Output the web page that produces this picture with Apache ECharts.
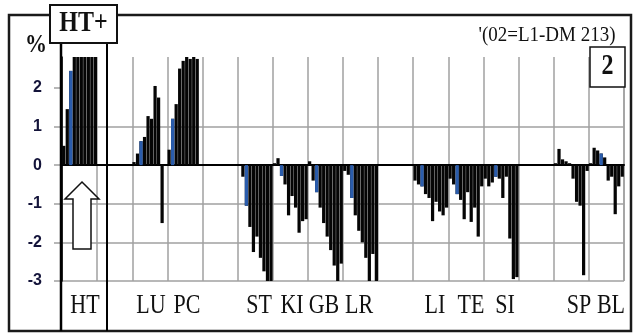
<!DOCTYPE html>
<html><head><meta charset="utf-8">
<script src="https://cdn.jsdelivr.net/npm/echarts@6/dist/echarts.min.js"></script>
<style>html,body{margin:0;padding:0;background:#fff}#c{width:641px;height:333px}</style>
</head><body><div id="c"></div>
<script>
// ---- data: 16 blocks of 10 samples each (one block per vertical grid cell) ----
const blockHT   = [0.5, 1.45, 2.44, 2.8, 2.8, 2.8, 2.8, 2.8, 2.8, 2.8];
const blockGap1 = [0, 0, 0, 0, 0, 0, 0, 0, 0, 0];
const blockLU   = [0.08, 0.3, 0.62, 0.73, 1.27, 1.2, 2.05, 1.75, -1.5, 0];
const blockPC   = [0.4, 1.2, 1.58, 2.5, 2.7, 2.8, 2.75, 2.8, 2.75, 0.03];
const blockGap2 = [0, 0, 0, 0, 0, 0, 0, 0, 0, 0];
const blockST   = [0, -0.3, -1.05, -1.6, -2.25, -1.85, -2.4, -2.75, -3.0, -3.0];
const blockKI   = [0.05, 0.18, -0.28, -0.5, -1.3, -0.8, -1.1, -1.75, -1.45, -1.4];
const blockGB   = [0.1, -0.4, -0.7, -1.1, -1.5, -1.85, -2.2, -2.6, -3.0, -2.55];
const blockLR   = [-0.15, -0.25, -0.85, -1.3, -1.7, -2.0, -2.4, -3.0, -2.3, -3.0];
const blockGap3 = [0, 0, 0, 0, 0, 0, 0, 0, 0, 0];
const blockLI   = [-0.4, -0.5, -0.55, -0.75, -0.85, -1.45, -0.95, -1.2, -1.3, -1.1];
const blockTE   = [-0.35, -0.5, -0.75, -0.9, -1.4, -0.7, -1.47, -1.1, -1.85, -0.55];
const blockSI   = [-0.35, -0.55, -0.45, -0.3, -0.35, -0.85, -0.3, -1.9, -2.95, -2.9];
const blockGap4 = [0, 0, 0, 0, 0, 0, 0, 0, 0, 0];
const blockSP   = [0.05, 0.42, 0.15, 0.1, 0.05, -0.35, -0.95, -1.05, -2.85, -0.15];
const blockBL   = [0.05, 0.45, 0.38, 0.3, 0.2, -0.4, -0.3, -1.27, -0.55, -0.3];
// samples drawn in blue
const blueSamples = [2, 22, 31, 52, 62, 72, 82, 102, 112, 123, 153];
const yTicks = [-3, -2, -1, 0, 1, 2];
const groupLabels = ['HT', 'LU', 'PC', 'ST', 'KI', 'GB', 'LR', 'LI', 'TE', 'SI', 'SP', 'BL'];
const panelTag = 'HT+';
const noteText = "'(02=L1-DM 213)";
const panelNo = '2';
const unitText = '%';

const values = [].concat(blockHT, blockGap1, blockLU, blockPC, blockGap2, blockST, blockKI,
  blockGB, blockLR, blockGap3, blockLI, blockTE, blockSI, blockGap4, blockSP, blockBL);
const categories = values.map((_, i) => String(i + 1));
const blueValues = values.map((v, i) => blueSamples.includes(i) ? v : null);

// label anchor x (pixels) for bottom group labels
const labelX = [85, 151, 187, 259, 292, 324, 359, 435, 471, 505, 579, 611];

const serif = '"Liberation Serif", "DejaVu Serif", serif';
function txt(text, x, y, size, bold, sy) {
  return { type: 'text', x: x, y: y, scaleY: sy || 1.25, z: 20,
    style: { text: text, x: 0, y: 0, fill: '#111', textAlign: 'center', textVerticalAlign: 'middle',
      font: (bold ? 'bold ' : '') + size + 'px ' + serif } };
}

const graphics = [
  { type: 'line', z: -1, shape: { x1: 624, y1: 57, x2: 624, y2: 281 }, style: { stroke: '#a0a0a0', lineWidth: 1.5 } },
  { type: 'rect', z: 10, shape: { x: 9, y: 15, width: 622, height: 316 }, style: { fill: 'none', stroke: '#1a1a1a', lineWidth: 2.5 } },
  { type: 'line', z: 11, shape: { x1: 61, y1: 42, x2: 61, y2: 331 }, style: { stroke: '#000', lineWidth: 2.5 } },
  { type: 'line', z: 11, shape: { x1: 107, y1: 42, x2: 107, y2: 331 }, style: { stroke: '#000', lineWidth: 2 } },
  { type: 'rect', z: 12, shape: { x: 50, y: 5, width: 67, height: 38 }, style: { fill: '#fff', stroke: '#111', lineWidth: 2 } },
  txt(panelTag, 83.5, 24, 24, true, 1.2),
  { type: 'polygon', z: 12, shape: { points: [[82, 182], [99, 199], [91, 199], [91, 249], [73, 249], [73, 199], [65, 199]] },
    style: { fill: '#fff', stroke: '#111', lineWidth: 1.5 } },
  txt(noteText, 547, 35, 19, false, 1.15),
  { type: 'rect', z: 12, shape: { x: 590, y: 47, width: 35, height: 40 }, style: { fill: '#fff', stroke: '#111', lineWidth: 1.5 } },
  txt(panelNo, 607.5, 67, 24, true, 1.2),
  txt(unitText, 36, 45, 22, true, 1.15)
];
groupLabels.forEach((t, i) => graphics.push(txt(t, labelX[i], 306, 22, false, 1.25)));

const chart = echarts.init(document.getElementById('c'), null, { renderer: 'canvas' });
chart.setOption({
  animation: false,
  backgroundColor: '#fff',
  grid: { left: 62, right: 17, top: 57, bottom: 52, containLabel: false },
  xAxis: {
    type: 'category', data: categories, boundaryGap: true,
    axisLine: { show: true, onZero: true, lineStyle: { color: '#000', width: 2 } },
    axisTick: { show: false }, axisLabel: { show: false },
    splitLine: { show: true, interval: 9, lineStyle: { color: '#a0a0a0', width: 1.5 } }
  },
  yAxis: {
    type: 'value', min: -3, max: 2.8, interval: 1,
    axisLine: { show: true, lineStyle: { color: '#000', width: 1.5 } },
    axisTick: { show: true, length: 8, customValues: yTicks, lineStyle: { color: '#a0a0a0', width: 1.5 } },
    axisLabel: { customValues: yTicks, margin: 20, color: '#14143a', fontSize: 16, fontWeight: 'bold',
      fontFamily: '"Liberation Sans", Arial, sans-serif' },
    splitLine: { show: true, showMaxLine: false, lineStyle: { color: '#a0a0a0', width: 1.5 } }
  },
  series: [
    { type: 'bar', data: values, barCategoryGap: '8%', barGap: '-100%', itemStyle: { color: '#050505' }, silent: true },
    { type: 'bar', data: blueValues, barCategoryGap: '8%', barGap: '-100%', itemStyle: { color: '#2a5cac' }, silent: true }
  ],
  graphic: graphics
});
</script>
</body></html>
